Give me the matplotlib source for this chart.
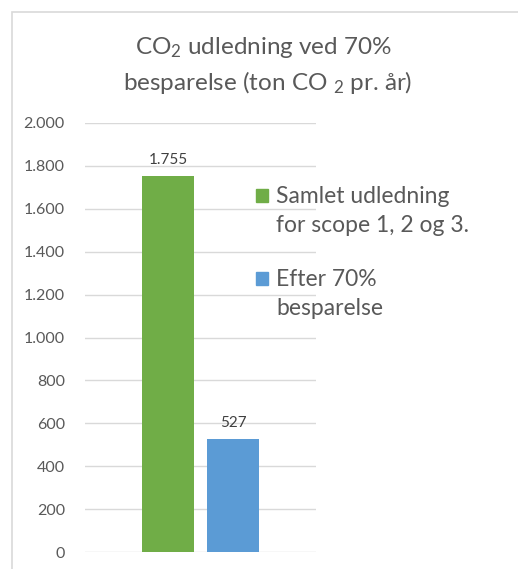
import numpy as np
import matplotlib.pyplot as plt
import matplotlib.patches as patches
from matplotlib.ticker import FuncFormatter

plt.rcParams['font.family'] = ['Lato', 'DejaVu Sans']
plt.rcParams['mathtext.fontset'] = 'custom'
plt.rcParams['mathtext.rm'] = 'Lato'
plt.rcParams['mathtext.it'] = 'Lato'

# data
series = ['Samlet udledning\nfor scope 1, 2 og 3.', 'Efter 70%\nbesparelse']
values = [1755, 527]
colors = ['#70ad47', '#5b9bd5']
yticks = [0, 200, 400, 600, 800, 1000, 1200, 1400, 1600, 1800, 2000]

W, H = 518, 569
fig = plt.figure(figsize=(W / 100, H / 100), dpi=100)

# outer chart border (cut off on right/bottom like the reference)
fig.patches.append(patches.Rectangle((12 / W, -0.1), 1.2, 1 - 12 / H + 0.1,
                                     transform=fig.transFigure, fill=False,
                                     edgecolor='#d9d9d9', linewidth=1.2))

ax = fig.add_axes([85 / W, 1 - 552 / H, (316 - 85) / W, (552 - 123) / H])

def dk(v, pos=None):
    return '{:,.0f}'.format(v).replace(',', '.')

width = 0.225
offsets = [-0.1407, 0.1407]
for i in range(len(values)):
    ax.bar(offsets[i], values[i], width=width, color=colors[i], zorder=3)
    ax.text(offsets[i], values[i] + 40, dk(values[i]), ha='center', va='bottom',
            fontsize=11, color='#404040')

ax.set_xlim(-0.5, 0.5)
ax.set_ylim(0, 2000)
ax.set_yticks(yticks)
ax.yaxis.set_major_formatter(FuncFormatter(dk))
ax.set_xticks([])
ax.grid(axis='y', color='#d9d9d9', linewidth=1)
for s in ax.spines.values():
    s.set_visible(False)
ax.tick_params(axis='y', length=0, pad=14.5, labelsize=11.5, labelcolor='#595959')

fig.text(263 / W, 1 - 48 / H, r'CO$_2$ udledning ved 70%', ha='center', va='center',
         fontsize=17.5, color='#595959')
fig.text(268 / W, 1 - 82 / H, r'besparelse (ton CO $_2$ pr. år)', ha='center', va='center',
         fontsize=17.5, color='#595959')

# legend
leg_y = [189, 272]
for i in range(len(series)):
    fig.patches.append(patches.Rectangle((256 / W, 1 - (leg_y[i] + 13) / H), 12 / W, 13 / H,
                                         transform=fig.transFigure, color=colors[i]))
    fig.text(276 / W, 1 - (leg_y[i] - 3) / H, series[i], ha='left', va='top',
             fontsize=16.5, color='#595959', linespacing=1.45)

fig.savefig('out.png', dpi=100)
